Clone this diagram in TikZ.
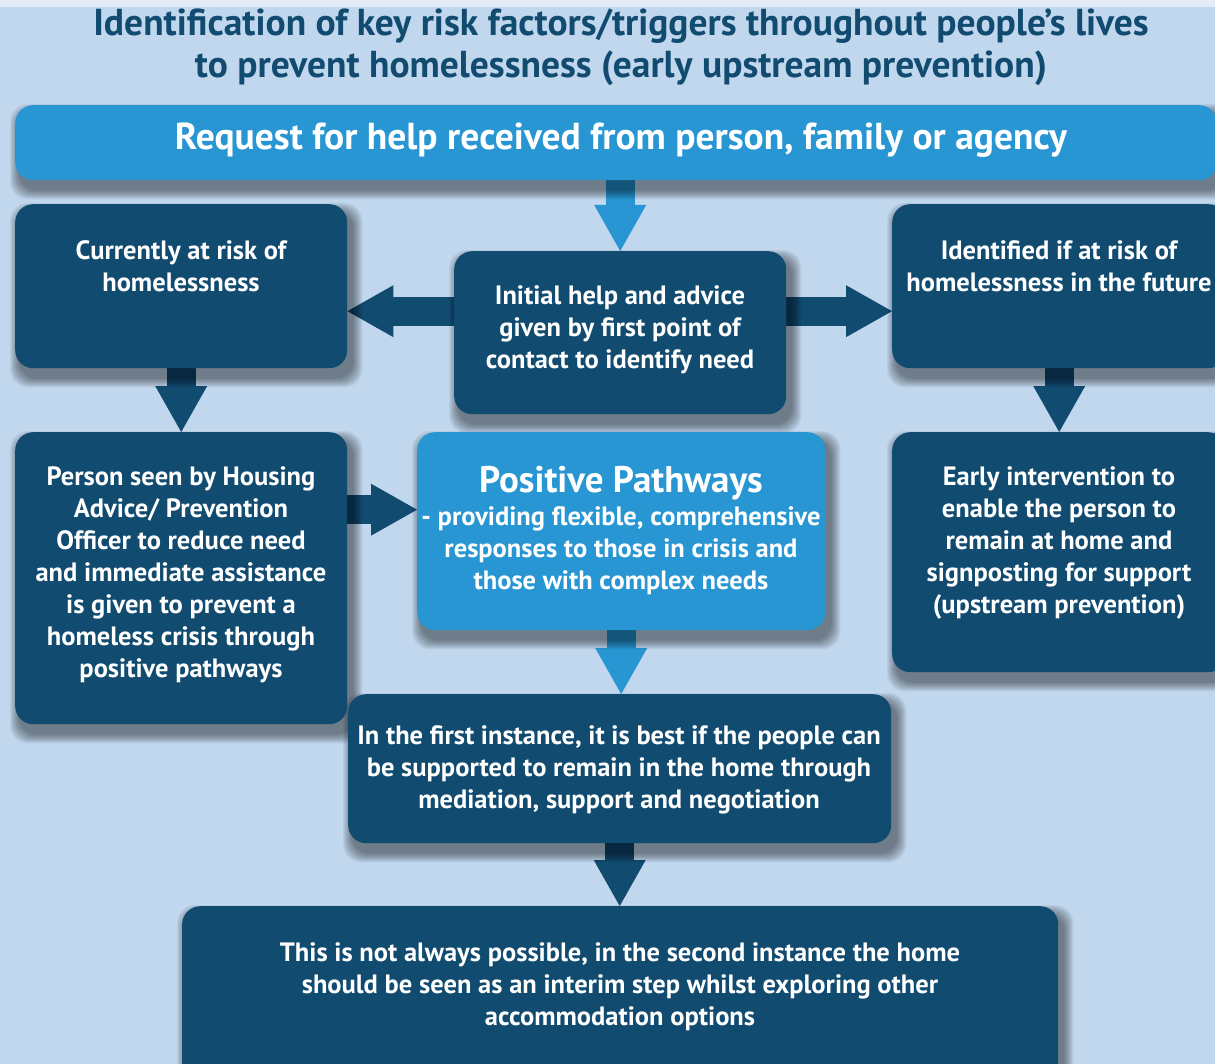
\documentclass[tikz,border=0pt]{standalone}
\usepackage{fontspec}
\setmainfont{PT Sans}
\usetikzlibrary{arrows.meta,calc}
\definecolor{pagebg}{RGB}{193,215,238}
\definecolor{stripbg}{RGB}{226,235,246}
\definecolor{navy}{RGB}{17,75,112}
\definecolor{sky}{RGB}{40,150,211}
\pgfdeclarelayer{back}
\pgfdeclarelayer{links}
\pgfdeclarelayer{shade}
\pgfsetlayers{back,links,shade,main}
% soft drop shadow below a box: stacked translucent rounded rectangles
\newcommand\dropshade[1]{%
  \begin{pgfonlayer}{shade}
    \foreach \d in {10,9,...,1}{%
      \fill[black, opacity=0.05, rounded corners=18pt]
        ($(#1.north west)+(5-\d,9-\d)$) rectangle ($(#1.south east)+(5+\d,9+\d)$);
    }
  \end{pgfonlayer}}
\begin{document}
\begin{tikzpicture}[x=1pt,y=-1pt,
  darkbox/.style={fill=navy, rounded corners=18pt, inner sep=0pt, anchor=north west},
  lightbox/.style={darkbox, fill=sky},
  boxtext/.style={text=white, align=center, inner sep=0pt, font=\bfseries\fontsize{26.5}{32}\selectfont},
  headtext/.style={text=navy, align=center, inner sep=0pt, font=\bfseries\fontsize{37.5}{42}\selectfont},
  link/.style={draw=#1, line width=29pt, -{Triangle[length=46pt, width=52pt, line width=0pt]}},
]
\useasboundingbox (0,0) rectangle (1215,1064);
\begin{pgfonlayer}{back}
  \fill[pagebg] (0,0) rectangle (1215,1064);
  \fill[stripbg] (0,0) rectangle (1215,7);
\end{pgfonlayer}

% heading
\node[headtext] (title) at (621,47) {Identification of key risk factors/triggers throughout people’s lives\\to prevent homelessness (early upstream prevention)};

% boxes
\node[lightbox, minimum width=1202pt, minimum height=75pt] (req) at (15,105) {};
\node[darkbox, minimum width=332pt, minimum height=164pt] (cur) at (15,204) {};
\node[darkbox, minimum width=332pt, minimum height=163pt] (init) at (454,251) {};
\node[darkbox, minimum width=334pt, minimum height=164pt] (ident) at (892,204) {};
\node[darkbox, minimum width=332pt, minimum height=292pt] (per) at (15,432) {};
\node[lightbox, minimum width=408pt, minimum height=198pt] (pp) at (417,432) {};
\node[darkbox, minimum width=334pt, minimum height=240pt] (early) at (892,432) {};
\node[darkbox, minimum width=543pt, minimum height=149pt] (fi) at (348,694) {};
\node[darkbox, minimum width=876pt, minimum height=200pt] (bot) at (182,906) {};
\foreach \b in {req,cur,init,ident,per,pp,early,fi,bot}{\dropshade{\b}}

% box texts
\node[boxtext, font=\bfseries\fontsize{37.5}{42}\selectfont] (reqt) at (621,140) {Request for help received from person, family or agency};
\node[boxtext] (curt) at (181,266) {Currently at risk of\\homelessness};
\node[boxtext] (initt) at (620,330) {Initial help and advice\\given by first point of\\contact to identify need};
\node[boxtext] (identt) at (1059,266) {Identified if at risk of\\homelessness in the future};
\node[boxtext] (pert) at (181,575) {Person seen by Housing\\Advice/ Prevention\\Officer to reduce need\\and immediate assistance\\is given to prevent a\\homeless crisis through\\positive pathways};
\node[boxtext, font=\bfseries\fontsize{37}{42}\selectfont] (ppt) at (621,483) {Positive Pathways};
\node[boxtext] (pps) at (621,551) {- providing flexible, comprehensive\\responses to those in crisis and\\those with complex needs};
\node[boxtext] (earlyt) at (1059,543) {Early intervention to\\enable the person to\\remain at home and\\signposting for support\\(upstream prevention)};
\node[boxtext] (fit) at (619,770) {In the first instance, it is best if the people can\\be supported to remain in the home through\\mediation, support and negotiation};
\node[boxtext] (bott) at (620,987) {This is not always possible, in the second instance the home\\should be seen as an interim step whilst exploring other\\accommodation options};

% connecting arrows
\begin{pgfonlayer}{links}
  \draw[link=sky] (init.north |- req.south) -- (init.north);
  \coordinate (ia) at ([yshift=21.5pt]init.west);
  \coordinate (ib) at ([yshift=21.5pt]init.east);
  \draw[link=navy] (ia) -- (ia -| cur.east);
  \draw[link=navy] (ib) -- (ib -| ident.west);
  \draw[link=navy] (cur.south) -- (per.north);
  \draw[link=navy] (ident.south) -- (early.north);
  \coordinate (pa) at ([yshift=68.5pt]per.east);
  \draw[link=navy] (pa) -- (pa -| pp.west);
  \draw[link=sky] (pp.south) -- (pp.south |- fi.north);
  \draw[link=navy] (fi.south) -- (fi.south |- bot.north);
\end{pgfonlayer}
\end{tikzpicture}
\end{document}
